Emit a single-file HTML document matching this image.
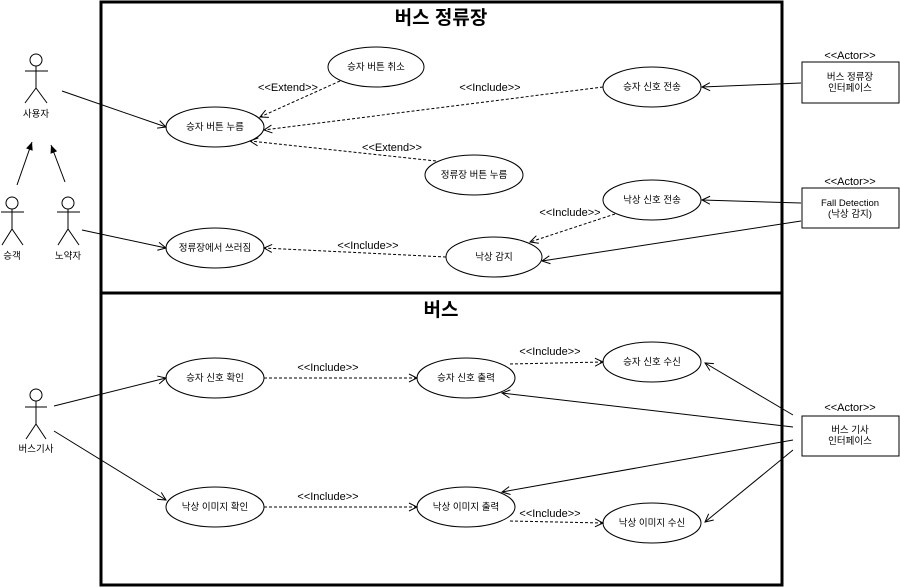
<!DOCTYPE html>
<html><head><meta charset="utf-8"><style>
html,body{margin:0;padding:0;background:#fff;}
svg{display:block;font-family:"Liberation Sans","Noto Sans CJK KR",sans-serif;}
</style></head><body>
<svg width="900" height="588" viewBox="0 0 900 588" xmlns="http://www.w3.org/2000/svg">
<defs>
<marker id="o" markerWidth="10" markerHeight="10" refX="9" refY="5" orient="auto" markerUnits="userSpaceOnUse">
<path d="M1,1 L9,5 L1,9" fill="none" stroke="#000" stroke-width="1"/></marker>
<marker id="t" markerWidth="10" markerHeight="10" refX="9" refY="5" orient="auto" markerUnits="userSpaceOnUse">
<path d="M1,1.5 L9,5 L1,8.5 Z" fill="#000"/></marker>
</defs>
<rect x="101" y="2" width="681" height="583" fill="none" stroke="#000" stroke-width="3"/>
<line x1="101" y1="293" x2="782" y2="293" stroke="#000" stroke-width="3"/>
<text x="441" y="24" font-size="19" font-weight="bold" text-anchor="middle">버스 정류장</text>
<text x="441" y="316" font-size="19" font-weight="bold" text-anchor="middle">버스</text>

<g fill="#fff" stroke="#000" stroke-width="1">
<ellipse cx="376" cy="67" rx="48" ry="20"/>
<ellipse cx="215" cy="127" rx="49" ry="20"/>
<ellipse cx="652" cy="87" rx="49" ry="20"/>
<ellipse cx="474" cy="175" rx="49" ry="20"/>
<ellipse cx="652" cy="200" rx="49" ry="20"/>
<ellipse cx="494" cy="257" rx="48" ry="20"/>
<ellipse cx="215" cy="248" rx="49" ry="20"/>
<ellipse cx="215" cy="378" rx="49" ry="20"/>
<ellipse cx="466" cy="378" rx="49" ry="20"/>
<ellipse cx="652" cy="362" rx="49" ry="20"/>
<ellipse cx="215" cy="507" rx="49" ry="20"/>
<ellipse cx="466" cy="507" rx="49" ry="20"/>
<ellipse cx="652" cy="523" rx="49" ry="20"/>
<rect x="802" y="62" width="97" height="41"/>
<rect x="802" y="188" width="97" height="40"/>
<rect x="802" y="416" width="97" height="40"/>
</g>

<g font-size="9.5" text-anchor="middle">
<text x="376" y="70">승자 버튼 취소</text>
<text x="215" y="130">승자 버튼 누름</text>
<text x="652" y="90">승자 신호 전송</text>
<text x="474" y="178">정류장 버튼 누름</text>
<text x="652" y="203">낙상 신호 전송</text>
<text x="494" y="260">낙상 감지</text>
<text x="215" y="251">정류장에서 쓰러짐</text>
<text x="215" y="381">승자 신호 확인</text>
<text x="466" y="381">승자 신호 출력</text>
<text x="652" y="365">승자 신호 수신</text>
<text x="215" y="510">낙상 이미지 확인</text>
<text x="466" y="510">낙상 이미지 출력</text>
<text x="652" y="526">낙상 이미지 수신</text>
<text x="850" y="80">버스 정류장</text>
<text x="850" y="91">인터페이스</text>
<text x="850" y="206">Fall Detection</text>
<text x="850" y="217">(낙상 감지)</text>
<text x="850" y="433">버스 기사</text>
<text x="850" y="444">인터페이스</text>
<text x="36" y="117">사용자</text>
<text x="12" y="259">승객</text>
<text x="68" y="259">노약자</text>
<text x="36" y="452">버스기사</text>
</g>
<g font-size="11" text-anchor="middle">
<text x="850" y="59">&lt;&lt;Actor&gt;&gt;</text>
<text x="850" y="185">&lt;&lt;Actor&gt;&gt;</text>
<text x="850" y="411">&lt;&lt;Actor&gt;&gt;</text>
<text x="288" y="91">&lt;&lt;Extend&gt;&gt;</text>
<text x="490" y="91">&lt;&lt;Include&gt;&gt;</text>
<text x="392" y="151">&lt;&lt;Extend&gt;&gt;</text>
<text x="570" y="216">&lt;&lt;Include&gt;&gt;</text>
<text x="368" y="249">&lt;&lt;Include&gt;&gt;</text>
<text x="328" y="371">&lt;&lt;Include&gt;&gt;</text>
<text x="550" y="355">&lt;&lt;Include&gt;&gt;</text>
<text x="328" y="500">&lt;&lt;Include&gt;&gt;</text>
<text x="550" y="517">&lt;&lt;Include&gt;&gt;</text>
</g>

<!-- stick figures -->
<g fill="none" stroke="#000" stroke-width="1">
<circle cx="36" cy="60" r="6"/><line x1="36" y1="66" x2="36" y2="88"/><line x1="25" y1="71" x2="48" y2="71"/><line x1="36" y1="88" x2="25" y2="103"/><line x1="36" y1="88" x2="47" y2="103"/>
<circle cx="12" cy="203" r="6"/><line x1="12" y1="209" x2="12" y2="229"/><line x1="1" y1="212" x2="24" y2="212"/><line x1="12" y1="229" x2="2" y2="245"/><line x1="12" y1="229" x2="23" y2="245"/>
<circle cx="68" cy="203" r="6"/><line x1="68" y1="209" x2="68" y2="229"/><line x1="57" y1="212" x2="80" y2="212"/><line x1="68" y1="229" x2="58" y2="245"/><line x1="68" y1="229" x2="79" y2="245"/>
<circle cx="36" cy="395" r="6"/><line x1="36" y1="401" x2="36" y2="424"/><line x1="25" y1="407" x2="47" y2="407"/><line x1="36" y1="424" x2="26" y2="439"/><line x1="36" y1="424" x2="46" y2="439"/>
</g>

<!-- solid associations -->
<g stroke="#000" stroke-width="1" fill="none" marker-end="url(#o)">
<line x1="62" y1="91" x2="166" y2="127"/>
<line x1="82" y1="230" x2="166" y2="248"/>
<line x1="801" y1="83" x2="702" y2="87"/>
<line x1="801" y1="203" x2="702" y2="200"/>
<line x1="801" y1="221" x2="542" y2="261"/>
<line x1="54" y1="406" x2="166" y2="378"/>
<line x1="54" y1="431" x2="166" y2="500"/>
<line x1="793" y1="415" x2="705" y2="363"/>
<line x1="793" y1="427" x2="502" y2="393"/>
<line x1="793" y1="440" x2="502" y2="492"/>
<line x1="793" y1="450" x2="705" y2="522"/>
</g>
<g stroke="#000" stroke-width="1" marker-end="url(#t)">
<line x1="17" y1="185" x2="32" y2="142"/>
<line x1="65" y1="182" x2="51" y2="145"/>
</g>
<!-- dashed -->
<g stroke="#000" stroke-width="1" fill="none" stroke-dasharray="3,2" marker-end="url(#o)">
<line x1="340" y1="81" x2="260" y2="117"/>
<line x1="603" y1="87" x2="264" y2="130"/>
<line x1="436" y1="161" x2="250" y2="141"/>
<line x1="615" y1="214" x2="530" y2="242"/>
<line x1="446" y1="257" x2="264" y2="248"/>
<line x1="264" y1="378" x2="417" y2="378"/>
<line x1="510" y1="364" x2="603" y2="362"/>
<line x1="264" y1="507" x2="417" y2="507"/>
<line x1="510" y1="521" x2="603" y2="523"/>
</g>
</svg>
</body></html>
